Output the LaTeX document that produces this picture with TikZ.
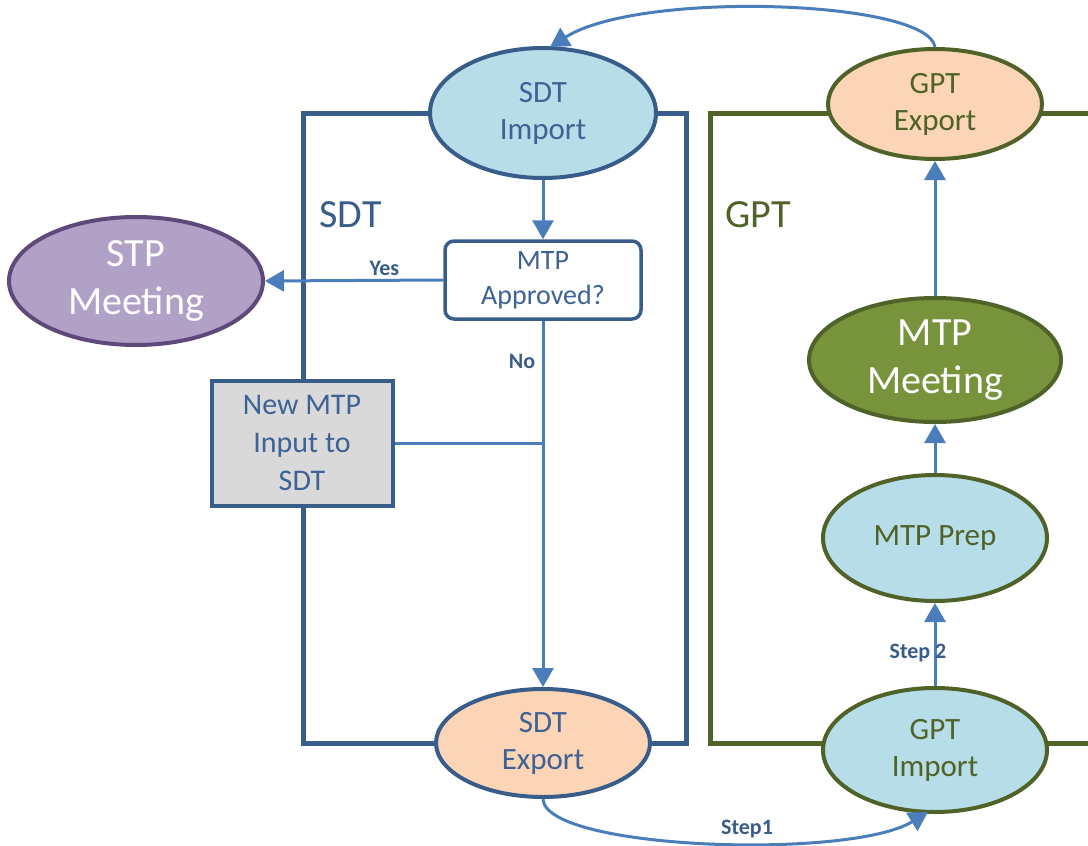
\documentclass[tikz,border=0pt]{standalone}
\usepackage{fontspec}
\setmainfont{Carlito}
\usetikzlibrary{shapes.geometric,arrows.meta}
\definecolor{sdtline}{HTML}{385D8A}
\definecolor{sdttext}{HTML}{3E6296}
\definecolor{gptline}{HTML}{4F6228}
\definecolor{flow}{HTML}{4A7EBB}
\definecolor{lblue}{HTML}{B7DDE8}
\definecolor{peach}{HTML}{FBD5B5}
\definecolor{lilac}{HTML}{B2A1C7}
\definecolor{plum}{HTML}{5F497A}
\definecolor{leaf}{HTML}{77933C}
\definecolor{lgray}{HTML}{D9D9D9}
\tikzset{
  oval/.style={ellipse, draw, line width=4, inner sep=0, align=center,
    font=\fontsize{31}{37}\selectfont},
  sdtoval/.style={oval, draw=sdtline, text=sdttext},
  gptoval/.style={oval, draw=gptline, text=gptline},
  bigoval/.style={oval, text=white, font=\fontsize{40}{48}\selectfont},
  frame/.style={line width=5, line join=miter},
  flowline/.style={draw=flow, line width=3, -{Triangle[length=19pt,width=21pt]}},
  flowplain/.style={draw=flow, line width=3},
  steplabel/.style={text=sdtline, font=\bfseries\fontsize{22}{24}\selectfont},
  boxlabel/.style={font=\fontsize{40}{44}\selectfont}
}
\begin{document}
\begin{tikzpicture}[x=1pt,y=-1pt]
\useasboundingbox (0,0) rectangle (1088,846);

% swim-lane frames
\draw[frame, sdtline] (303,113) rectangle (686,743);
\draw[frame, gptline] (1100,113) -- (710,113) -- (710,743) -- (1100,743);
\node[boxlabel, text=sdtline, anchor=west] (sdtlbl) at (316,215) {SDT};
\node[boxlabel, text=gptline, anchor=west] (gptlbl) at (722,215) {GPT};

% SDT lane
\node[sdtoval, fill=lblue, minimum width=226, minimum height=130] (sdtimp) at (543,113) {SDT\\Import};
\node[draw=sdtline, line width=3.5, fill=white, rounded corners=9, minimum width=196, minimum height=78,
      inner sep=0, align=center, text=sdttext, font=\fontsize{28}{35}\selectfont] (appr) at (543,280) {MTP\\Approved?};
\node[draw=sdtline, line width=4, fill=lgray, minimum width=181, minimum height=125, inner sep=0,
      align=center, text=sdttext, font=\fontsize{30}{38}\selectfont] (newmtp) at (302,443) {New MTP\\Input to\\SDT};
\node[sdtoval, fill=peach, minimum width=214, minimum height=108] (sdtexp) at (543,743) {SDT\\Export};
\node[bigoval, fill=lilac, draw=plum, minimum width=254, minimum height=128] (stp) at (136,281) {STP\\Meeting};

% GPT lane
\node[gptoval, fill=peach, minimum width=214, minimum height=110] (gptexp) at (935,104) {GPT\\Export};
\node[bigoval, fill=leaf, draw=gptline, minimum width=252, minimum height=124] (mtpmeet) at (935,360) {MTP\\Meeting};
\node[gptoval, fill=lblue, minimum width=224, minimum height=126] (prep) at (935,538) {MTP Prep};
\node[gptoval, fill=lblue, minimum width=224, minimum height=124] (gptimp) at (935,750) {GPT\\Import};

% decision flow
\draw[flowline] (sdtimp.south) -- (appr.north);
\draw[flowline] (appr.west) -- (stp.east) node[steplabel, pos=0.33, above=0] (yes) {Yes};
\draw[flowline] (appr.south) -- (sdtexp.north) node[steplabel, pos=0.11, left=3] (no) {No};
\coordinate (join) at (543,443);
\draw[flowplain] (newmtp.east) -- (join);

% GPT flow
\draw[flowline] (gptimp.north) -- (prep.south);
\node[steplabel] (step2) at (918,653) {Step 2};
\draw[flowline] (prep.north) -- (mtpmeet.south);
\draw[flowline] (mtpmeet.north) -- (gptexp.south);

% hand-offs between lanes
\draw[flowline] (gptexp.north) .. controls (928,0) and (640,-10) .. (550,47);
\draw[flowline] (sdtexp.south) .. controls (545,850) and (850,860) .. (928,812);
\node[steplabel] (step1) at (747,829) {Step1};
\end{tikzpicture}
\end{document}
